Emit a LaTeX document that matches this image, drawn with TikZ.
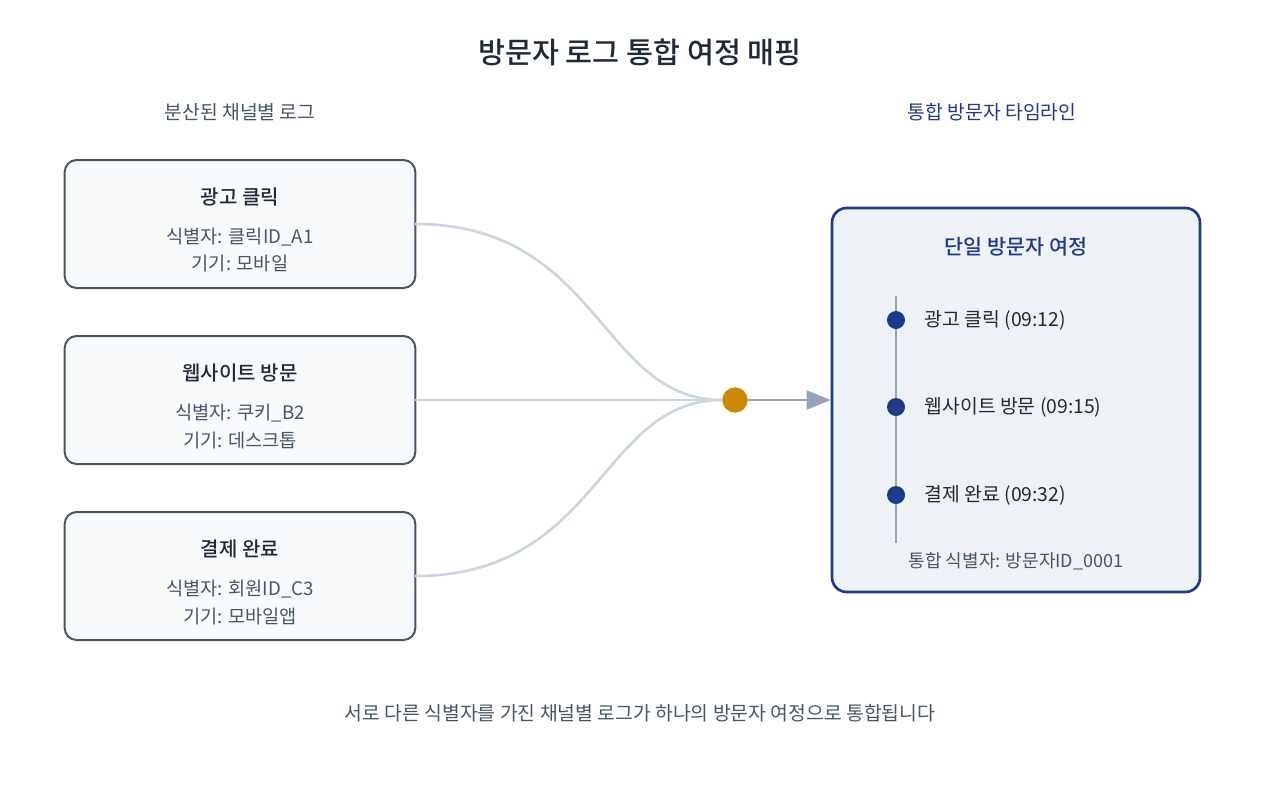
\documentclass[tikz,border=0pt]{standalone}
\usepackage{fontspec}
\setmainfont{Noto Sans CJK KR}
\newfontfamily\med{Noto Sans CJK KR Medium}
\usetikzlibrary{arrows.meta}
\definecolor{boxfill}{HTML}{F8FAFC}
\definecolor{boxline}{HTML}{475569}
\definecolor{navy}{HTML}{1E3A8A}
\definecolor{panel}{HTML}{EEF2F7}
\definecolor{curve}{HTML}{CBD5E1}
\definecolor{gray4}{HTML}{94A3B8}
\definecolor{gold}{HTML}{CA8A04}
\definecolor{ink}{HTML}{1F2937}
\begin{document}
\begin{tikzpicture}[x=0.75pt,y=-0.75pt,
  src/.style={draw=boxline,fill=boxfill,line width=1.5pt,rounded corners=9pt,minimum width=263pt,minimum height=96pt},
  flow/.style={draw=curve,line width=2pt},
  tdot/.style={circle,fill=navy,inner sep=0,minimum size=13.5pt},
  lbl/.style={anchor=west,text=ink,font=\fontsize{14.5}{17}\selectfont}]
\useasboundingbox (0,0) rectangle (1280,800);
\node[font=\fontsize{22}{26}\selectfont\med,text=ink] (title) at (640,52) {방문자 로그 통합 여정 매핑};
\node[text=boxline,font=\fontsize{14.5}{17}\selectfont] (lh) at (240,112) {분산된 채널별 로그};
\node[text=navy,font=\fontsize{14.5}{17}\selectfont] (rh) at (992,112) {통합 방문자 타임라인};
\foreach \n/\y/\t/\a/\b in {a/224/광고 클릭/식별자: 클릭ID\_A1/기기: 모바일, b/400/웹사이트 방문/식별자: 쿠키\_B2/기기: 데스크톱, c/576/결제 완료/식별자: 회원ID\_C3/기기: 모바일앱}{
  \node[src] (\n) at (240,\y) {};
  \node[text=ink,font=\fontsize{15}{17}\selectfont\med] (\n t) at (240,\y-27) {\t};
  \node[text=boxline,font=\fontsize{14}{16}\selectfont] (\n 1) at (240,\y+13) {\a};
  \node[text=boxline,font=\fontsize{14}{16}\selectfont] (\n 2) at (240,\y+40) {\b};
}
\node[draw=navy,fill=panel,line width=2pt,rounded corners=11pt,minimum width=276pt,minimum height=288pt] (p) at (1016,400) {};
\node[circle,fill=gold,inner sep=0,minimum size=19pt] (m) at (735,400) {};
\coordinate (ae) at (415,224); \coordinate (be) at (415,400); \coordinate (ce) at (415,576);
\draw[flow] (ae) .. controls (600,224) and (600,400) .. (m);
\draw[flow] (be) -- (m);
\draw[flow] (ce) .. controls (600,576) and (600,400) .. (m);
\draw[gray4,line width=2pt,-{Triangle[length=18pt,width=14pt]}] (m) -- (p.west);
\node[text=navy,font=\fontsize{15.5}{18}\selectfont\med] (pt) at (1016,247) {단일 방문자 여정};
\coordinate (t1) at (896,296); \coordinate (t2) at (896,543);
\draw[gray4,line width=2pt] (t1) -- (t2);
\node[tdot] (d1) at (896,320) {}; \node[tdot] (d2) at (896,407) {}; \node[tdot] (d3) at (896,495) {};
\node[lbl] (l1) at (920,320) {광고 클릭 (09:12)};
\node[lbl] (l2) at (920,407) {웹사이트 방문 (09:15)};
\node[lbl] (l3) at (920,495) {결제 완료 (09:32)};
\node[text=boxline,font=\fontsize{13.5}{16}\selectfont] (pid) at (1016,561) {통합 식별자: 방문자ID\_0001};
\node[text=boxline,font=\fontsize{14.5}{17}\selectfont] (foot) at (640,713) {서로 다른 식별자를 가진 채널별 로그가 하나의 방문자 여정으로 통합됩니다};
\end{tikzpicture}
\end{document}
